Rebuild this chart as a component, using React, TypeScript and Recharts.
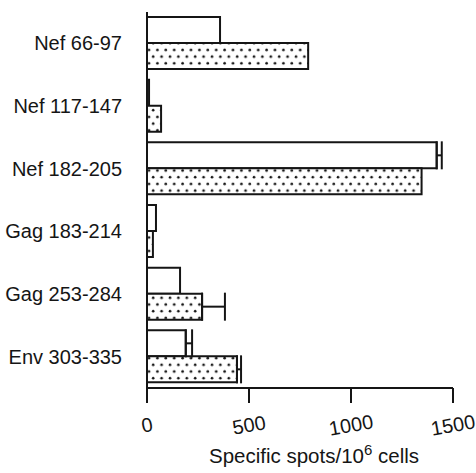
import { Bar, BarChart, ErrorBar, Label, XAxis, YAxis } from "recharts";

const epitopes = [
  "Nef 66-97",
  "Nef 117-147",
  "Nef 182-205",
  "Gag 183-214",
  "Gag 253-284",
  "Env 303-335",
];
const openValues = [358, 10, 1420, 44, 162, 190];
const dottedValues = [790, 69, 1346, 29, 270, 441];
const openErrors = [null, null, 25, null, null, 31];
const dottedErrors = [null, null, null, null, 112, 20];
const xTicks = [0, 500, 1000, 1500];

const data = epitopes.map((name, i) => ({
  name,
  open: openValues[i],
  dotted: dottedValues[i],
  openErr: openErrors[i] != null ? [0, openErrors[i]] : null,
  dottedErr: dottedErrors[i] != null ? [0, dottedErrors[i]] : null,
}));

const ink = "#151515";
const font = "'Liberation Sans', Arial, sans-serif";

const XTick = (props: any) => {
  const { x, y, payload } = props;
  return (
    <text
      x={0}
      y={0}
      transform={`translate(${x},${y + 20}) rotate(-10)`}
      textAnchor="middle"
      dominantBaseline="central"
      fontSize={20}
      fontFamily={font}
      fill={ink}
    >
      {payload.value}
    </text>
  );
};

const renderAxisLabel = (props: any) => {
  const vb = props.viewBox;
  const cx = vb.x + vb.width / 2 + 14;
  return (
    <text
      x={cx}
      y={vb.y + 75}
      textAnchor="middle"
      fontSize={20.5}
      fontFamily={font}
      fill={ink}
    >
      Specific spots/10
      <tspan fontSize={15} dy={-8}>
        6
      </tspan>
      <tspan dy={8}> cells</tspan>
    </text>
  );
};

export default function App() {
  return (
    <div style={{ width: 476, height: 473, background: "#fff" }}>
      <style>{"body{margin:0}"}</style>
      <BarChart
        width={476}
        height={473}
        data={data}
        layout="vertical"
        margin={{ top: 12, right: 23, bottom: 0, left: 0 }}
        barCategoryGap={5}
        barGap={0}
      >
        <defs>
          <pattern
            id="dots"
            patternUnits="userSpaceOnUse"
            width={8.4}
            height={13.4}
          >
            <rect width={8.4} height={13.4} fill="#fff" />
            <circle cx={2} cy={3} r={1.3} fill={ink} />
            <circle cx={6.2} cy={9.7} r={1.3} fill={ink} />
          </pattern>
        </defs>
        <XAxis
          type="number"
          domain={[0, 1500]}
          ticks={xTicks}
          height={85}
          tickSize={15}
          axisLine={{ stroke: ink, strokeWidth: 2 }}
          tickLine={{ stroke: ink, strokeWidth: 2 }}
          tick={<XTick />}
        >
          <Label content={renderAxisLabel} />
        </XAxis>
        <YAxis
          type="category"
          dataKey="name"
          width={147}
          tickLine={false}
          tickSize={0}
          tickMargin={25}
          axisLine={{ stroke: ink, strokeWidth: 2 }}
          tick={{ fontSize: 20, fontFamily: font, fill: ink }}
        />
        <Bar
          dataKey="open"
          fill="#fff"
          stroke={ink}
          strokeWidth={2}
          isAnimationActive={false}
        >
          <ErrorBar
            dataKey="openErr"
            direction="x"
            width={14}
            stroke={ink}
            strokeWidth={2}
          />
        </Bar>
        <Bar
          dataKey="dotted"
          fill="url(#dots)"
          stroke={ink}
          strokeWidth={2}
          isAnimationActive={false}
        >
          <ErrorBar
            dataKey="dottedErr"
            direction="x"
            width={14}
            stroke={ink}
            strokeWidth={2}
          />
        </Bar>
      </BarChart>
    </div>
  );
}
